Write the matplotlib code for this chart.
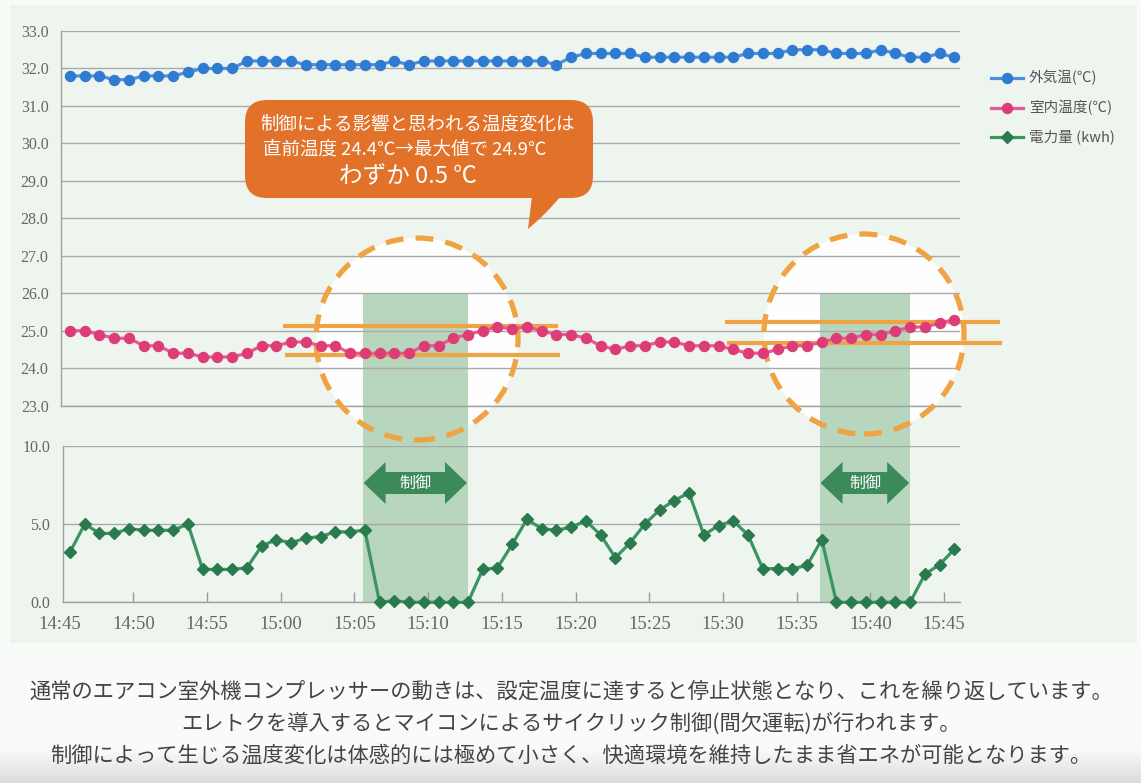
import numpy as np
import matplotlib
matplotlib.use('Agg')
import matplotlib.pyplot as plt
from matplotlib.patches import Rectangle, Ellipse, FancyBboxPatch, Polygon, PathPatch
from matplotlib.path import Path
from matplotlib.transforms import blended_transform_factory
from matplotlib.colors import LinearSegmentedColormap

# ---------------- data ----------------
time_labels = ['14:45', '14:50', '14:55', '15:00', '15:05', '15:10', '15:15',
               '15:20', '15:25', '15:30', '15:35', '15:40', '15:45']

outdoor_temp = [31.8, 31.8, 31.8, 31.7, 31.7, 31.8, 31.8, 31.8, 31.9, 32.0,
                32.0, 32.0, 32.2, 32.2, 32.2, 32.2, 32.1, 32.1, 32.1, 32.1,
                32.1, 32.1, 32.2, 32.1, 32.2, 32.2, 32.2, 32.2, 32.2, 32.2,
                32.2, 32.2, 32.2, 32.1, 32.3, 32.4, 32.4, 32.4, 32.4, 32.3,
                32.3, 32.3, 32.3, 32.3, 32.3, 32.3, 32.4, 32.4, 32.4, 32.5,
                32.5, 32.5, 32.4, 32.4, 32.4, 32.5, 32.4, 32.3, 32.3, 32.4,
                32.3]

indoor_temp = [25.0, 25.0, 24.9, 24.8, 24.8, 24.6, 24.6, 24.4, 24.4, 24.3,
               24.3, 24.3, 24.4, 24.6, 24.6, 24.7, 24.7, 24.6, 24.6, 24.4,
               24.4, 24.4, 24.4, 24.4, 24.6, 24.6, 24.8, 24.9, 25.0, 25.1,
               25.05, 25.1, 25.0, 24.9, 24.9, 24.8, 24.6, 24.5, 24.6, 24.6,
               24.7, 24.7, 24.6, 24.6, 24.6, 24.5, 24.4, 24.4, 24.5, 24.6,
               24.6, 24.7, 24.8, 24.8, 24.9, 24.9, 25.0, 25.1, 25.1, 25.2,
               25.3]

power_kwh = [3.2, 5.0, 4.4, 4.4, 4.7, 4.6, 4.6, 4.6, 5.0, 2.1,
             2.1, 2.1, 2.2, 3.6, 4.0, 3.8, 4.1, 4.2, 4.5, 4.5,
             4.6, 0.0, 0.1, 0.0, 0.0, 0.0, 0.0, 0.0, 2.1, 2.2,
             3.7, 5.3, 4.7, 4.6, 4.8, 5.2, 4.3, 2.85, 3.8, 5.0,
             5.9, 6.5, 7.0, 4.3, 4.9, 5.2, 4.3, 2.15, 2.15, 2.15,
             2.35, 4.0, 0.0, 0.0, 0.0, 0.0, 0.0, 0.0, 1.8, 2.4,
             3.4]

series_names = ['外気温(℃)', '室内温度(℃)', '電力量 (kwh)']

# control periods (in sample index units)
ctrl_start = [19.85, 50.85]
ctrl_end = [27.0, 57.0]

# annotation reference levels (°C) around each control period
ref_upper = [25.13, 25.23]
ref_lower = [24.35, 24.67]

callout_lines = ['制御による影響と思われる温度変化は',
                 '直前温度 24.4℃→最大値で 24.9℃',
                 'わずか 0.5 ℃']
footer_lines = ['通常のエアコン室外機コンプレッサーの動きは、設定温度に達すると停止状態となり、これを繰り返しています。',
                'エレトクを導入するとマイコンによるサイクリック制御(間欠運転)が行われます。',
                '制御によって生じる温度変化は体感的には極めて小さく、快適環境を維持したまま省エネが可能となります。']

# ---------------- style ----------------
plt.rcParams['font.family'] = ['Liberation Serif', 'DejaVu Sans']
JP = ['Noto Sans CJK JP', 'DejaVu Sans']
W, H = 1141, 783
X0, DX = 70.0, 14.74          # px of first sample, px per sample
TOP_Y33, TOP_Y23 = 31.0, 405.7
BOT_Y10, BOT_Y0 = 445.7, 602.3
PX_PER_DEG = (TOP_Y23 - TOP_Y33) / 10.0

c_blue_l, c_blue_m = '#4a90dd', '#2f7bd2'
c_pink_l, c_pink_m = '#e85a90', '#dc3d76'
c_green_l, c_green_m = '#3c9462', '#2b7a4d'
c_orange = '#f0a343'
c_bubble = '#e2722a'
c_band = '#b7d6bd'
c_grid = '#a9a9a9'
c_tick = '#666666'


def fx(x):
    return x / W


def fy(y):
    return 1 - y / H


def px_of(i):
    return X0 + DX * i


fig = plt.figure(figsize=(W / 100, H / 100), dpi=100)
fig.patch.set_facecolor('#f9fbf9')

# background layer
bg = fig.add_axes([0, 0, 1, 1])
bg.axis('off')
grad_cmap = LinearSegmentedColormap.from_list('g', ['#fafbfa', '#dcdcdc'])
bg.imshow(np.linspace(0, 1, 60).reshape(-1, 1), extent=(0, W, H, 748),
          cmap=grad_cmap, aspect='auto', zorder=0)
bg.set_xlim(0, W)
bg.set_ylim(H, 0)
bg.add_patch(Rectangle((10, 5), 1127, 638, color='#eef5ef', lw=0, zorder=1))

# axes
ax1 = fig.add_axes([fx(61), fy(TOP_Y23), fx(960) - fx(61), fy(TOP_Y33) - fy(TOP_Y23)])
ax2 = fig.add_axes([fx(62.7), fy(BOT_Y0), fx(960) - fx(62.7), fy(BOT_Y10) - fy(BOT_Y0)])
for ax in (ax1, ax2):
    ax.set_facecolor('none')
    ax.set_axisbelow(True)
    ax.yaxis.grid(True, color=c_grid, lw=1.0)
    for s in ('top', 'right'):
        ax.spines[s].set_visible(False)
    for s in ('left', 'bottom'):
        ax.spines[s].set_color('#a0a0a0')
        ax.spines[s].set_linewidth(1.0)
    ax.tick_params(axis='y', length=0, pad=9, labelsize=11.5, labelcolor=c_tick)

ax1.set_xlim((61 - X0) / DX, (960 - X0) / DX)
ax1.set_ylim(23, 33)
ax1.set_yticks(np.arange(23, 33.01, 1.0))
ax1.set_yticklabels([f'{v:.1f}' for v in np.arange(23, 33.01, 1.0)])
ax1.set_xticks([])

ax2.set_xlim((62.7 - X0) / DX, (960 - X0) / DX)
ax2.set_ylim(0, 10)
ax2.set_yticks([0, 5, 10])
ax2.set_yticklabels(['0.0', '5.0', '10.0'])
tick_pos = [5 * k - 0.7 for k in range(len(time_labels))]
ax2.set_xticks(tick_pos[1:])
ax2.set_xticklabels(time_labels[1:])
ax2.tick_params(axis='x', direction='in', length=7, color='#999999', width=1,
                labelsize=13.5, labelcolor=c_tick, pad=10)
ax2.annotate(time_labels[0], xy=(tick_pos[0], 0), xycoords=('data', 'axes fraction'),
             xytext=(0, -10), textcoords='offset points', ha='center', va='top',
             fontsize=13.5, color=c_tick, annotation_clip=False)

# band + circle fills in the background layer
band_tr = blended_transform_factory(ax1.transData, bg.transData)
band_top = TOP_Y33 + (33 - 26.0) * PX_PER_DEG
for s, e in zip(ctrl_start, ctrl_end):
    bg.add_patch(Rectangle((s, band_top), e - s, BOT_Y0 - band_top,
                           transform=band_tr, color=c_band, lw=0, zorder=4))

circ_px = [(417, 339, 101), (864, 334, 100)]
for cx, cy, r in circ_px:
    bg.add_patch(Ellipse((cx, cy), 2 * r, 2 * r, facecolor='white', edgecolor='none',
                         alpha=0.92, zorder=3))
    ax1.add_patch(Ellipse(((cx - X0) / DX, 33 - (cy - TOP_Y33) / PX_PER_DEG),
                          2 * r / DX, 2 * r / PX_PER_DEG, fill=False,
                          edgecolor=c_orange, lw=3.8, linestyle=(0, (3.4, 2.3)),
                          clip_on=False, zorder=3))

# reference lines
ref_x = [(14.45, 33.1), (44.44, 63.09)]
for (a, b), u, l in zip(ref_x, ref_upper, ref_lower):
    ax1.plot([a, b], [u, u], color=c_orange, lw=3.0, clip_on=False, zorder=3,
             solid_capstyle='butt')
    ax1.plot([a + 0.15, b + 0.15], [l, l], color=c_orange, lw=3.0, clip_on=False,
             zorder=3, solid_capstyle='butt')

# series
x = np.arange(len(outdoor_temp))
ax1.plot(x, outdoor_temp, color=c_blue_l, lw=2.3, marker='o', ms=7.2,
         mfc=c_blue_m, mec=c_blue_m, clip_on=False, zorder=5)
ax1.plot(x, indoor_temp, color=c_pink_l, lw=2.3, marker='o', ms=7.2,
         mfc=c_pink_m, mec=c_pink_m, clip_on=False, zorder=5)
ax2.plot(x, power_kwh, color=c_green_l, lw=2.3, marker='D', ms=6.0,
         mfc=c_green_m, mec=c_green_m, clip_on=False, zorder=5)

# overlay layer
ov = fig.add_axes([0, 0, 1, 1], zorder=10)
ov.set_facecolor('none')
ov.axis('off')
ov.set_xlim(0, W)
ov.set_ylim(H, 0)

# legend
leg_rows = [78, 108, 137]
styles = [(c_blue_l, c_blue_m, 'o', 7.2), (c_pink_l, c_pink_m, 'o', 7.2),
          (c_green_l, c_green_m, 'D', 6.0)]
for yy, name, (lc, mc, mk, ms) in zip(leg_rows, series_names, styles):
    ov.plot([991, 1023], [yy, yy], color=lc, lw=2.3)
    ov.plot([1007], [yy], marker=mk, ms=ms, color=mc)
    ov.text(1029, yy, name, ha='left', va='center', fontsize=10.5, color='#555555',
            family=JP)

# callout bubble
ov.add_patch(FancyBboxPatch((245, 100), 348, 98,
                            boxstyle='round,pad=0,rounding_size=22',
                            facecolor=c_bubble, edgecolor='none'))
tail = Path([(532, 196), (561, 196), (546, 214), (528, 229), (532, 196)],
            [Path.MOVETO, Path.LINETO, Path.CURVE3, Path.CURVE3, Path.CLOSEPOLY])
ov.add_patch(PathPatch(tail, facecolor=c_bubble, edgecolor='none'))
ov.text(418, 125, callout_lines[0], ha='center', va='center', fontsize=13.3,
        color='white', family=JP)
ov.text(405, 150, callout_lines[1], ha='center', va='center', fontsize=13.3,
        color='white', family=JP)
ov.text(408, 177, callout_lines[2], ha='center', va='center', fontsize=17,
        color='white', family=JP)

# control arrows
yc, hl, hh, bh = 483, 22, 21, 11
for s, e in zip(ctrl_start, ctrl_end):
    xl, xr = px_of(s) + 1, px_of(e) - 1
    pts = [(xl, yc), (xl + hl, yc - hh), (xl + hl, yc - bh), (xr - hl, yc - bh),
           (xr - hl, yc - hh), (xr, yc), (xr - hl, yc + hh), (xr - hl, yc + bh),
           (xl + hl, yc + bh), (xl + hl, yc + hh)]
    ov.add_patch(Polygon(pts, closed=True, facecolor='#3c8a5a', edgecolor='none'))
    ov.text((xl + xr) / 2, yc, '制御', ha='center', va='center', fontsize=11.5,
            color='white', family=JP)

# footer text
for yy, line in zip([692, 724, 756], footer_lines):
    ov.text(571, yy, line, ha='center', va='center', fontsize=15.3, color='#444444',
            family=JP)

fig.savefig('out.png', dpi=100, facecolor=fig.get_facecolor())
